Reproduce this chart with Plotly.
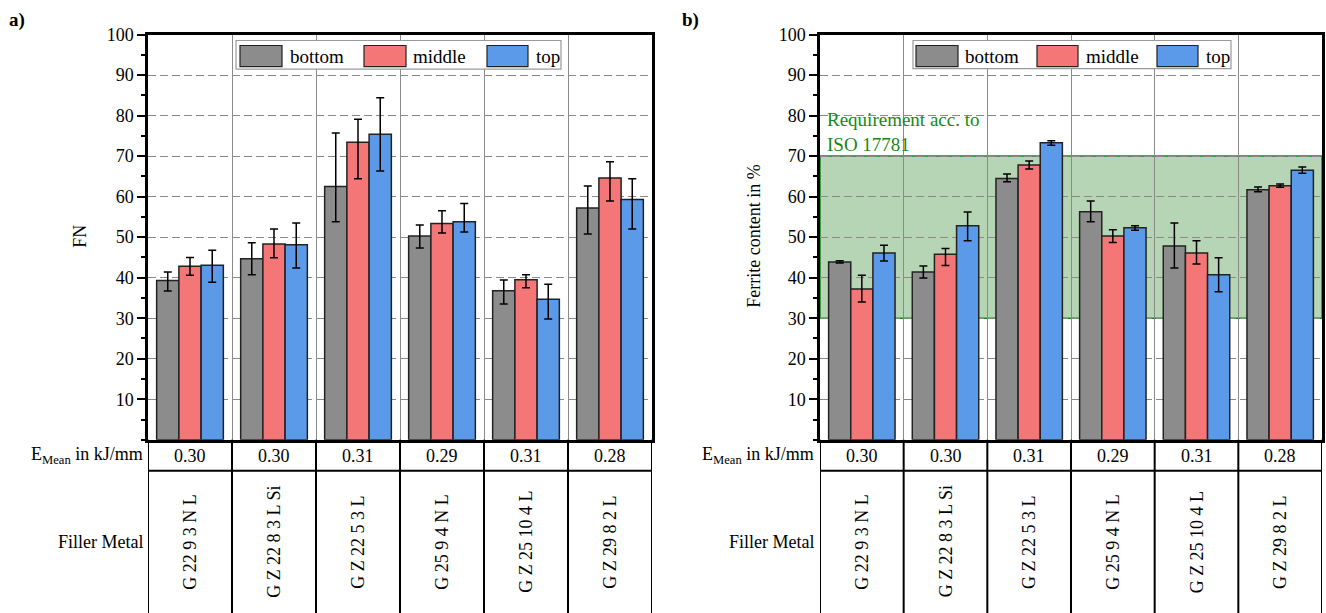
import plotly.graph_objects as go

W, H = 1326, 613

# ---------------- data ----------------
fillers = ["G 22 9 3 N L", "G Z 22 8 3 L Si", "G Z 22 5 3 L",
           "G 25 9 4 N L", "G Z 25 10 4 L", "G Z 29 8 2 L"]
e_mean = ["0.30", "0.30", "0.31", "0.29", "0.31", "0.28"]
series = ["bottom", "middle", "top"]

# a) FN
fn_bottom = [39.3, 44.7, 62.5, 50.3, 36.8, 57.2]
fn_bottom_plus = [2.1, 3.9, 13.2, 2.7, 2.6, 5.4]
fn_bottom_minus = [2.6, 4.0, 8.7, 3.0, 3.3, 6.4]
fn_middle = [42.8, 48.3, 73.4, 53.4, 39.5, 64.6]
fn_middle_plus = [2.2, 3.7, 5.7, 3.1, 1.2, 4.0]
fn_middle_minus = [2.2, 3.4, 9.0, 2.4, 2.0, 5.7]
fn_top = [43.1, 48.1, 75.4, 53.8, 34.7, 59.3]
fn_top_plus = [3.7, 5.4, 9.0, 4.5, 3.7, 5.1]
fn_top_minus = [4.2, 5.7, 9.1, 2.5, 4.9, 7.3]

# b) Ferrite content in %
fe_bottom = [43.9, 41.4, 64.5, 56.3, 47.8, 61.7]
fe_bottom_plus = [0.3, 1.5, 1.1, 2.6, 5.7, 0.7]
fe_bottom_minus = [0.3, 1.5, 0.8, 2.5, 5.4, 0.5]
fe_middle = [37.2, 45.8, 67.8, 50.3, 46.1, 62.7]
fe_middle_plus = [3.4, 1.4, 1.0, 1.5, 3.0, 0.4]
fe_middle_minus = [3.2, 2.8, 1.0, 1.6, 2.7, 0.4]
fe_top = [46.1, 52.8, 73.3, 52.3, 40.7, 66.5]
fe_top_plus = [1.9, 3.4, 0.5, 0.5, 4.2, 0.8]
fe_top_minus = [2.0, 3.7, 0.6, 0.6, 4.2, 0.7]

req_low, req_high = 30, 70
yticks = [10, 20, 30, 40, 50, 60, 70, 80, 90, 100]

colors = {"bottom": "#8c8c8c", "middle": "#f47676", "top": "#5b9ae8"}
FONT = "Liberation Serif, Times New Roman, serif"

xpos = list(range(len(fillers)))

# vertical correction for the capture (observed offset / scale)
VA, VB = 9.5, 0.983


def X(px):
    return px / W


def Y(py):
    return 1 - ((py - VA) / VB) / H


fig = go.Figure()

panels = [
    ("x", "y", {"bottom": (fn_bottom, fn_bottom_plus, fn_bottom_minus),
                "middle": (fn_middle, fn_middle_plus, fn_middle_minus),
                "top": (fn_top, fn_top_plus, fn_top_minus)}),
    ("x2", "y2", {"bottom": (fe_bottom, fe_bottom_plus, fe_bottom_minus),
                  "middle": (fe_middle, fe_middle_plus, fe_middle_minus),
                  "top": (fe_top, fe_top_plus, fe_top_minus)}),
]

for xa, ya, data in panels:
    for s in series:
        vals, plus, minus = data[s]
        fig.add_trace(go.Bar(
            x=xpos, y=vals, name=s, xaxis=xa, yaxis=ya,
            offsetgroup=s, showlegend=False,
            marker=dict(color=colors[s], line=dict(color="#222222", width=1.5)),
            error_y=dict(type="data", symmetric=False, array=plus, arrayminus=minus,
                         color="black", thickness=1.5, width=4),
        ))

ytop, ybot = 34, 439
ydom = [Y(ybot), Y(ytop)]

common_x = dict(range=[-0.5, 5.5], tickvals=[0.5, 1.5, 2.5, 3.5, 4.5],
                showticklabels=False, ticks="", showgrid=True,
                gridcolor="#8a8a8a", gridwidth=1, zeroline=False,
                showline=True, linecolor="black", linewidth=2.5, mirror=True)
common_y = dict(range=[0, 100], tickvals=yticks, ticks="outside", ticklen=8,
                tickwidth=2, tickcolor="black", showgrid=True,
                gridcolor="#8a8a8a", gridwidth=1, griddash="8px,4px",
                zeroline=False, showline=True, linecolor="black", linewidth=2.5,
                mirror=True, tickfont=dict(family=FONT, size=18, color="black"),
                minor=dict(ticks="outside", ticklen=4, tickwidth=2, tickcolor="black",
                           dtick=5, tick0=0, showgrid=False))

fig.update_layout(
    width=W, height=H, margin=dict(l=0, r=0, t=0, b=0),
    paper_bgcolor="white", plot_bgcolor="white",
    barmode="group", bargap=0.206, bargroupgap=0,
    font=dict(family=FONT, size=18, color="black"),
    xaxis=dict(domain=[X(148), X(652)], anchor="y", **common_x),
    yaxis=dict(domain=ydom, anchor="x", **common_y),
    xaxis2=dict(domain=[X(820), X(1322)], anchor="y2", **common_x),
    yaxis2=dict(domain=ydom, anchor="x2", **common_y),
)

shapes = []
annotations = []

# requirement band on panel b
shapes.append(dict(type="rect", xref="x2 domain", x0=0, x1=1, yref="y2",
                   y0=req_low, y1=req_high, fillcolor="#b5d5b5",
                   line=dict(color="#138a13", width=1.5), layer="below"))
annotations.append(dict(xref="x2 domain", x=0.010, yref="y2", y=75.9,
                        xanchor="left", yanchor="middle", showarrow=False,
                        align="left",
                        text="Requirement acc. to<br>ISO 17781",
                        font=dict(family=FONT, size=19, color="#138a13")))

# tables below the plots
row_split = 470
for xa, lab_shift in [("x", -3), ("x2", -4)]:
    for b in [-0.5, 0.5, 1.5, 2.5, 3.5, 4.5, 5.5]:
        shapes.append(dict(type="line", xref=xa, x0=b, x1=b, yref="paper",
                           y0=0, y1=Y(ybot), line=dict(color="black", width=2)))
    shapes.append(dict(type="line", xref=xa, x0=-0.5, x1=5.5, yref="paper",
                       y0=Y(row_split), y1=Y(row_split),
                       line=dict(color="black", width=2)))
    for i in xpos:
        annotations.append(dict(xref=xa, x=i, yref="paper", y=Y(455),
                                xanchor="center", yanchor="middle",
                                text=e_mean[i], showarrow=False,
                                font=dict(family=FONT, size=18)))
        annotations.append(dict(xref=xa, x=i, yref="paper", y=Y(541),
                                xanchor="center", yanchor="middle",
                                text=fillers[i], showarrow=False, textangle=-90,
                                font=dict(family=FONT, size=18)))
    annotations.append(dict(xref=xa, x=-0.5, xshift=lab_shift, xanchor="right",
                            yref="paper", y=Y(455), yanchor="middle", showarrow=False,
                            text="E<sub>Mean</sub> in kJ/mm",
                            font=dict(family=FONT, size=18)))
    annotations.append(dict(xref=xa, x=-0.5, xshift=lab_shift, xanchor="right",
                            yref="paper", y=Y(541), yanchor="middle", showarrow=False,
                            text="Filler Metal",
                            font=dict(family=FONT, size=18)))

# axis titles
annotations.append(dict(xref="paper", x=X(80), yref="paper", y=Y(236),
                        xanchor="center", yanchor="middle",
                        text="FN", textangle=-90, showarrow=False,
                        font=dict(family=FONT, size=18)))
annotations.append(dict(xref="paper", x=X(754), yref="paper", y=Y(236),
                        xanchor="center", yanchor="middle",
                        text="Ferrite content in %", textangle=-90, showarrow=False,
                        font=dict(family=FONT, size=18)))

# panel labels
annotations.append(dict(xref="paper", x=X(7), yref="paper", y=Y(19),
                        xanchor="left", yanchor="middle",
                        text="<b>a)</b>", showarrow=False,
                        font=dict(family=FONT, size=19)))
annotations.append(dict(xref="paper", x=X(680), yref="paper", y=Y(19),
                        xanchor="left", yanchor="middle",
                        text="<b>b)</b>", showarrow=False,
                        font=dict(family=FONT, size=19)))

# custom legends (large patches)
legends = [
    ((236, 40, 561, 68.5), [(240, 282, 288), (364, 406, 411), (487, 528, 534)]),
    ((913, 40, 1231, 68), [(916, 958, 963), (1037, 1078, 1084), (1157, 1198, 1204)]),
]
for (bx0, by0, bx1, by1), items in legends:
    shapes.append(dict(type="rect", xref="paper", yref="paper",
                       x0=X(bx0), x1=X(bx1), y0=Y(by1), y1=Y(by0),
                       fillcolor="white", line=dict(color="#9a9a9a", width=1.2)))
    for s, (px0, px1, tx) in zip(series, items):
        shapes.append(dict(type="rect", xref="paper", yref="paper",
                           x0=X(px0), x1=X(px1), y0=Y(66), y1=Y(45),
                           fillcolor=colors[s], line=dict(color="#222222", width=1.2)))
        annotations.append(dict(xref="paper", x=X(tx), yref="paper", y=Y(55.5),
                                xanchor="left", yanchor="middle", text=s,
                                showarrow=False, font=dict(family=FONT, size=19)))

fig.update_layout(shapes=shapes, annotations=annotations)

post = (
    "document.documentElement.style.margin='0';"
    "document.documentElement.style.overflow='hidden';"
    "document.body.style.margin='0';"
    "document.body.style.overflow='hidden';"
    "var gd=document.querySelector('.plotly-graph-div');"
    "if(gd){gd.style.position='absolute';gd.style.top='0px';gd.style.left='0px';}"
)

fig.write_html("out.html", config={"displayModeBar": False}, post_script=post)
